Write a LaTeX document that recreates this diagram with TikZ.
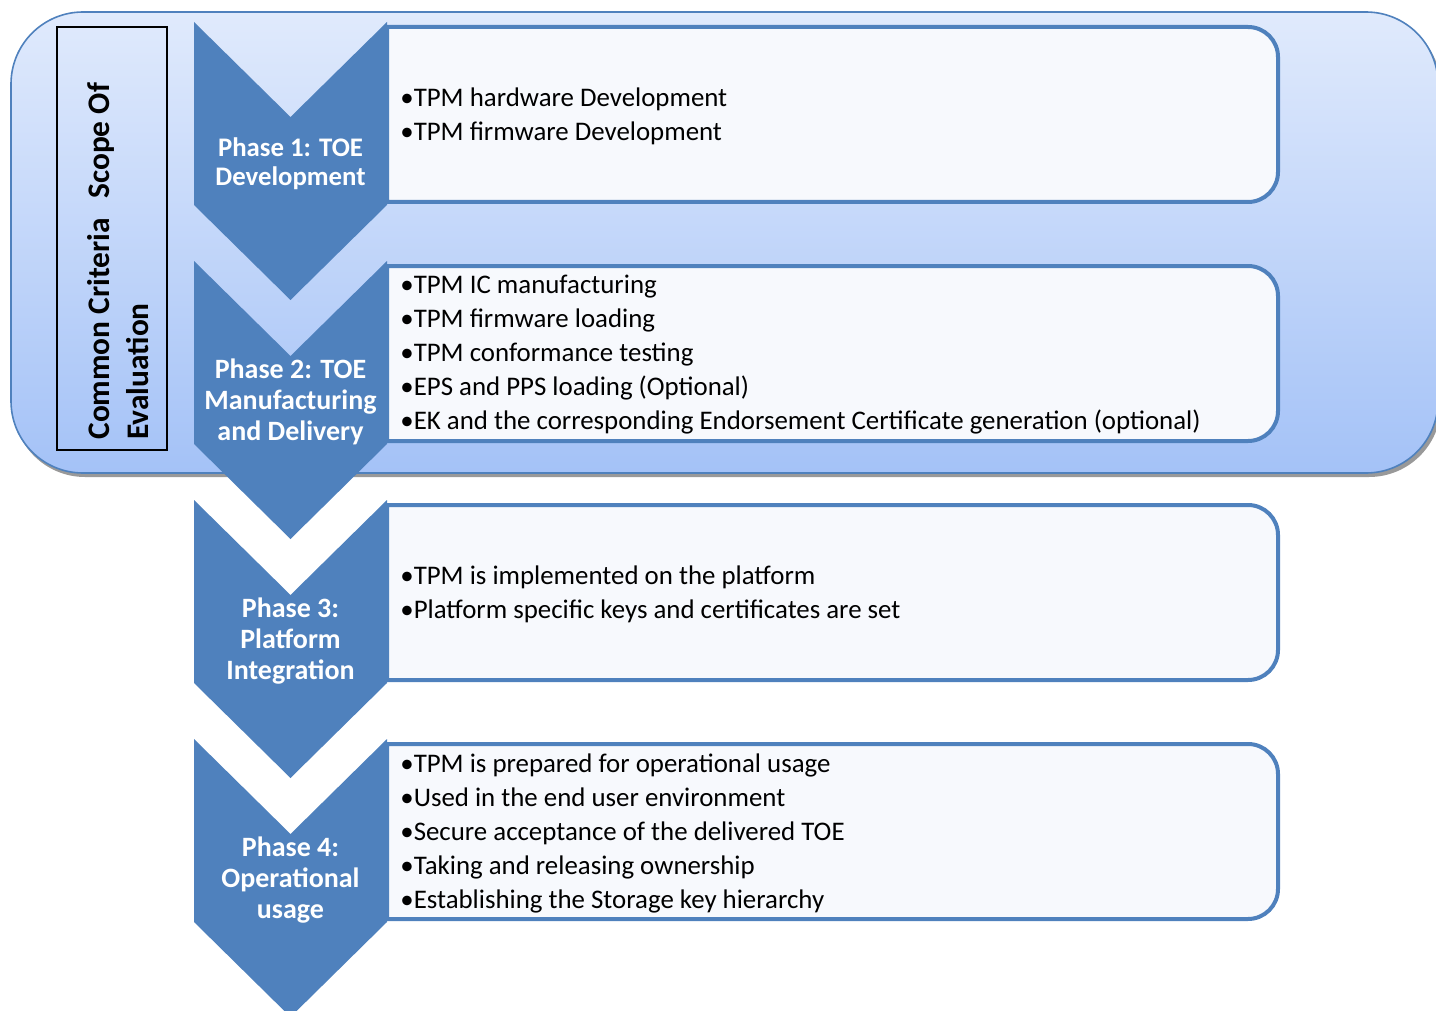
\documentclass[tikz,border=0pt]{standalone}
\usepackage{fontspec}
\setmainfont{Carlito}
\definecolor{chevblue}{RGB}{79,129,189}
\definecolor{boxfill}{RGB}{247,249,253}
\definecolor{bgtop}{RGB}{224,234,252}
\definecolor{bgbot}{RGB}{164,194,247}
\begin{document}
\begin{tikzpicture}[x=0.5pt,y=-0.5pt,
  chev/.style={fill=chevblue, draw=none},
  ptext/.style={text=white, font=\bfseries\fontsize{14}{15.5}\selectfont, align=center, inner sep=0pt},
  ptextsmall/.style={ptext, font=\bfseries\fontsize{13.4}{14.6}\selectfont},
  btext/.style={font=\fontsize{13.43}{17}\selectfont, align=left, anchor=west, inner sep=0pt},
  tbox/.style={draw=chevblue, line width=2pt, fill=boxfill},
  vtext/.style={rotate=90, anchor=base west, inner sep=0pt, font=\bfseries\fontsize{15.7}{20}\selectfont}]
\useasboundingbox (0,0) rectangle (1436,1011);
\clip (0,0) rectangle (1436,1011);
% background scope box
\fill[black!40, rounded corners=36pt] (13,16) rectangle (1441,477);
\draw[draw=chevblue, line width=0.8pt, top color=bgtop, bottom color=bgbot, rounded corners=36pt] (11,12) rectangle (1438,473);
\draw[black, line width=0.7pt] (57,27) rectangle (167,450);
\node[vtext] (cc1) at (109,440) {Common Criteria\ \ \,Scope Of};
\node[vtext] (cc2) at (148,440) {Evaluation};
% text boxes
\draw[tbox] (387,27) -- (1248,27) arc (270:360:30) -- (1278,172) arc (0:90:30) -- (387,202) -- cycle;
\draw[tbox] (387,266) -- (1248,266) arc (270:360:30) -- (1278,411) arc (0:90:30) -- (387,441) -- cycle;
\draw[tbox] (387,505) -- (1248,505) arc (270:360:30) -- (1278,650) arc (0:90:30) -- (387,680) -- cycle;
\draw[tbox] (387,744) -- (1248,744) arc (270:360:30) -- (1278,889) arc (0:90:30) -- (387,919) -- cycle;
% chevrons
\fill[chev] (194,22) -- (290.5,117) -- (387,22) -- (387,205) -- (290.5,300) -- (194,205) -- cycle;
\fill[chev] (194,261) -- (290.5,356) -- (387,261) -- (387,444) -- (290.5,539) -- (194,444) -- cycle;
\fill[chev] (194,500) -- (290.5,595) -- (387,500) -- (387,683) -- (290.5,778) -- (194,683) -- cycle;
\fill[chev] (194,739) -- (290.5,834) -- (387,739) -- (387,922) -- (290.5,1017) -- (194,922) -- cycle;
% phase labels
\node[ptextsmall] (p1) at (290.5,164) {Phase 1: TOE\\Development};
\node[ptext] (p2) at (290.5,402) {Phase 2: TOE\\Manufacturing\\and Delivery};
\node[ptext] (p3) at (290.5,641) {Phase 3:\\Platform\\Integration};
\node[ptext] (p4) at (290.5,880) {Phase 4:\\Operational\\usage};
% body texts
\node[btext] (t1) at (400,116.5) {•TPM hardware Development\\•TPM firmware Development};
\node[btext] (t2) at (400,355) {•TPM IC manufacturing\\•TPM firmware loading\\•TPM conformance testing\\•EPS and PPS loading (Optional)\\•EK and the corresponding Endorsement Certificate generation (optional)};
\node[btext] (t3) at (400,594) {•TPM is implemented on the platform\\•Platform specific keys and certificates are set};
\node[btext] (t4) at (400,833) {•TPM is prepared for operational usage\\•Used in the end user environment\\•Secure acceptance of the delivered TOE\\•Taking and releasing ownership\\•Establishing the Storage key hierarchy};
\end{tikzpicture}
\end{document}
